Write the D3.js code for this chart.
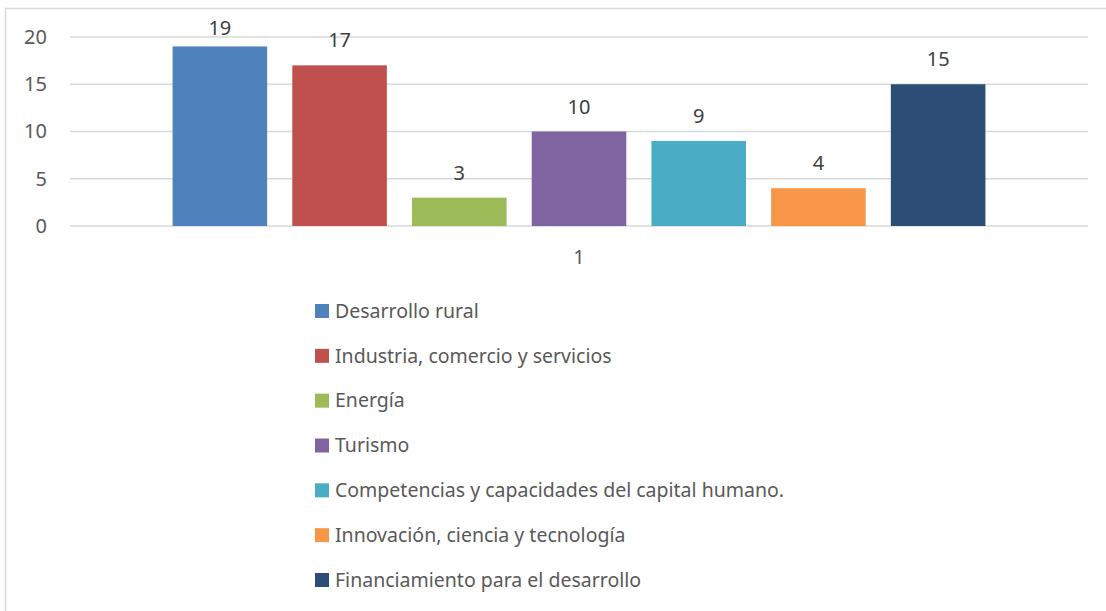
<!DOCTYPE html>
<html>
<head>
<meta charset="utf-8">
<script src="https://cdn.jsdelivr.net/npm/d3@7"></script>
<style>
  html, body { margin: 0; padding: 0; background: #fff; }
  svg { display: block; font-family: "Noto Sans", "Open Sans", sans-serif; }
</style>
</head>
<body>
<svg id="chart" width="1106" height="611"></svg>
<script>
// Chart data
const categories = ["1"];
const seriesNames = [
  "Desarrollo rural",
  "Industria, comercio y servicios",
  "Energía",
  "Turismo",
  "Competencias y capacidades del capital humano.",
  "Innovación, ciencia y tecnología",
  "Financiamiento para el desarrollo"
];
const seriesValues = [19, 17, 3, 10, 9, 4, 15];
const seriesColors = ["#4f81bd", "#c0504d", "#9bbb59", "#8064a2", "#4bacc6", "#f79646", "#2c4d75"];
const yTicks = [0, 5, 10, 15, 20];

const svg = d3.select("#chart");
const W = 1106, H = 611;

// Chart area frame (top and left edges visible)
svg.append("line").attr("x1", 5.5).attr("x2", 5.5).attr("y1", 8).attr("y2", H)
  .attr("stroke", "#d9d9d9").attr("stroke-width", 1.5);
svg.append("line").attr("x1", 5).attr("x2", W).attr("y1", 8.5).attr("y2", 8.5)
  .attr("stroke", "#d9d9d9").attr("stroke-width", 1.5);

const plot = { left: 70, right: 1088, top: 37, bottom: 226 };

const y = d3.scaleLinear().domain([0, 20]).range([plot.bottom, plot.top]);

const x0 = d3.scaleBand().domain(categories).range([plot.left, plot.right])
  .paddingInner(0).paddingOuter(0.1074);
const x1 = d3.scaleBand().domain(seriesNames).range([0, x0.bandwidth()])
  .paddingInner(0.21).paddingOuter(0.105);

// Gridlines
svg.append("g")
  .selectAll("line")
  .data(yTicks)
  .join("line")
  .attr("x1", plot.left).attr("x2", plot.right)
  .attr("y1", d => y(d)).attr("y2", d => y(d))
  .attr("stroke", "#d9d9d9").attr("stroke-width", 1.5);

// Y axis labels
const yAxis = d3.axisLeft(y).tickValues(yTicks).tickSize(0).tickPadding(0);
const yg = svg.append("g").attr("transform", `translate(47,0)`).call(yAxis);
yg.select(".domain").remove();
yg.selectAll("text").attr("fill", "#595959").attr("font-size", 20)
  .attr("font-family", "'Noto Sans', sans-serif");

// Bars
const group = svg.append("g")
  .selectAll("g")
  .data(categories)
  .join("g")
  .attr("transform", d => `translate(${x0(d)},0)`);

const series = seriesNames.map((name, i) => ({ name, value: seriesValues[i], color: seriesColors[i] }));

group.selectAll("rect")
  .data(series)
  .join("rect")
  .attr("x", d => x1(d.name))
  .attr("width", x1.bandwidth())
  .attr("y", d => y(d.value))
  .attr("height", d => y(0) - y(d.value))
  .attr("fill", d => d.color);

// Value labels (kept inside the chart area near the top)
group.selectAll("text.val")
  .data(series)
  .join("text")
  .attr("class", "val")
  .attr("x", d => x1(d.name) + x1.bandwidth() / 2)
  .attr("y", d => Math.max(35, y(d.value) - 18))
  .attr("text-anchor", "middle")
  .attr("fill", "#404040")
  .attr("font-size", 20)
  .text(d => d.value);

// X axis category label
const xAxis = d3.axisBottom(x0).tickSize(0).tickPadding(0);
const xg = svg.append("g").attr("transform", `translate(0,${plot.bottom + 38})`).call(xAxis);
xg.select(".domain").remove();
xg.selectAll("text").attr("fill", "#595959").attr("font-size", 20)
  .attr("font-family", "'Noto Sans', sans-serif").attr("dy", "0");

// Legend
const legend = svg.append("g").attr("transform", "translate(315,0)");
const rowY = d3.scaleLinear().domain([0, 6]).range([311, 580]);
const items = legend.selectAll("g")
  .data(series)
  .join("g")
  .attr("transform", (d, i) => `translate(0,${rowY(i)})`);
items.append("rect")
  .attr("x", 0).attr("y", -7).attr("width", 14).attr("height", 14)
  .attr("fill", d => d.color);
items.append("text")
  .attr("x", 20).attr("y", 0).attr("dy", "0.35em")
  .attr("fill", "#595959")
  .attr("font-size", 19.5)
  .text(d => d.name);
</script>
</body>
</html>
